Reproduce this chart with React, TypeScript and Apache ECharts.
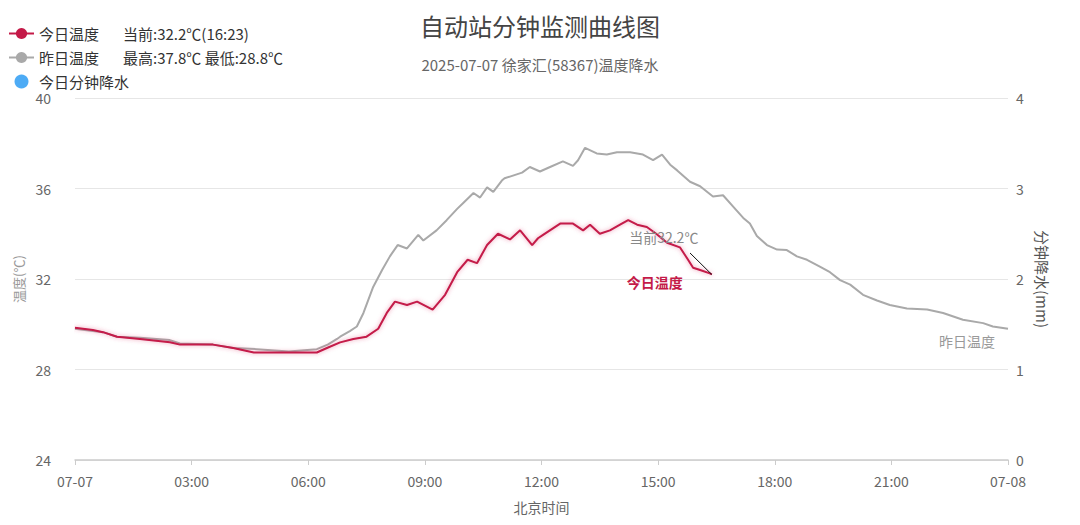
import React, { useEffect, useRef } from "react";
import * as echarts from "echarts";

const xTickLabels = ["07-07", "03:00", "06:00", "09:00", "12:00", "15:00", "18:00", "21:00", "07-08"];

const todayHours = [0, 0.46, 0.72, 1.08, 1.67, 2.44, 2.7, 3.55, 4.07, 4.6, 6.22, 6.48, 6.82, 7.16, 7.5, 7.8, 8.02, 8.23, 8.54, 8.8, 9.2, 9.52, 9.83, 10.1, 10.34, 10.6, 10.88, 11.19, 11.45, 11.76, 11.91, 12.04, 12.48, 12.81, 13.07, 13.25, 13.5, 13.76, 14.02, 14.23, 14.46, 14.71, 14.95, 15.23, 15.56, 15.77, 15.9, 16.08, 16.33, 16.38];
const todayTemps = [29.85, 29.75, 29.65, 29.45, 29.35, 29.2, 29.1, 29.1, 28.95, 28.75, 28.75, 28.95, 29.2, 29.35, 29.45, 29.8, 30.5, 31.0, 30.85, 31.0, 30.65, 31.3, 32.3, 32.85, 32.7, 33.5, 34.0, 33.75, 34.15, 33.5, 33.8, 33.95, 34.45, 34.45, 34.15, 34.4, 34.0, 34.15, 34.4, 34.6, 34.4, 34.3, 34.0, 33.6, 33.4, 32.85, 32.5, 32.4, 32.25, 32.2];

const yesterdayHours = [0, 0.46, 0.72, 1.08, 1.67, 2.44, 2.7, 3.55, 4.07, 4.68, 5.5, 6.22, 6.5, 6.74, 6.82, 7.07, 7.25, 7.42, 7.67, 7.9, 8.1, 8.3, 8.54, 8.83, 8.96, 9.3, 9.56, 9.83, 9.98, 10.25, 10.42, 10.6, 10.76, 10.98, 11.05, 11.5, 11.7, 11.96, 12.22, 12.55, 12.81, 12.94, 13.12, 13.42, 13.68, 13.94, 14.28, 14.61, 14.87, 15.1, 15.31, 15.49, 15.82, 16.08, 16.41, 16.67, 16.93, 17.19, 17.36, 17.54, 17.8, 18.06, 18.31, 18.57, 18.83, 19.16, 19.42, 19.68, 19.94, 20.27, 20.63, 20.96, 21.4, 21.92, 22.33, 22.84, 23.36, 23.61, 24];
const yesterdayTemps = [29.8, 29.7, 29.65, 29.45, 29.4, 29.3, 29.15, 29.1, 28.95, 28.9, 28.8, 28.9, 29.1, 29.35, 29.45, 29.7, 29.9, 30.5, 31.65, 32.4, 33.0, 33.5, 33.35, 33.95, 33.7, 34.15, 34.6, 35.1, 35.35, 35.8, 35.6, 36.05, 35.85, 36.35, 36.45, 36.7, 36.95, 36.75, 36.95, 37.2, 37.0, 37.25, 37.8, 37.55, 37.5, 37.6, 37.6, 37.5, 37.25, 37.5, 37.05, 36.8, 36.3, 36.1, 35.65, 35.7, 35.2, 34.7, 34.45, 33.9, 33.5, 33.3, 33.28, 33.0, 32.85, 32.55, 32.3, 31.95, 31.75, 31.3, 31.05, 30.85, 30.7, 30.65, 30.5, 30.2, 30.05, 29.9, 29.8];

const todayRain: number[][] = [];

// start of the "current value" leader line (hour, °C)
const leaderStart = [15.82, 33.15];

const currentText = "当前32.2℃";
const legendExtra: Record<string, string> = {
  "今日温度": "当前:32.2℃(16:23)",
  "昨日温度": "最高:37.8℃ 最低:28.8℃",
  "今日分钟降水": "",
};

const RED = "#c41a48";
const GRAY = "#a9a9a9";
const BLUE = "#2196f3";
const FONT = "'Noto Sans CJK SC', 'Noto Sans', sans-serif";

export default function App() {
  const ref = useRef<HTMLDivElement>(null);
  useEffect(() => {
    if (!ref.current) return;
    const chart = echarts.init(ref.current, undefined, { renderer: "svg" });
    const today = todayHours.map((h, i) => [h, todayTemps[i]]);
    const yesterday = yesterdayHours.map((h, i) => [h, yesterdayTemps[i]]);
    const lastToday = today[today.length - 1];
    const lastYesterday = yesterday[yesterday.length - 1];
    chart.setOption({
      animation: false,
      textStyle: { fontFamily: FONT },
      title: {
        text: "自动站分钟监测曲线图",
        subtext: "2025-07-07 徐家汇(58367)温度降水",
        left: "center",
        top: 5,
        padding: [0, 5],
        itemGap: 20,
        textStyle: { fontSize: 24, fontWeight: "normal", color: "#444", fontFamily: FONT },
        subtextStyle: { fontSize: 15, color: "#666", fontFamily: FONT },
      },
      legend: {
        orient: "vertical",
        left: 0,
        top: 18,
        padding: 0,
        itemWidth: 25,
        itemHeight: 14,
        itemGap: 9,
        data: [
          { name: "今日温度" },
          { name: "昨日温度" },
          { name: "今日分钟降水", icon: "circle" },
        ],
        formatter: (name: string) =>
          legendExtra[name] ? `{a|${name}}{b|${legendExtra[name]}}` : `{a|${name}}`,
        textStyle: {
          color: "#333",
          fontSize: 15,
          fontFamily: FONT,
          rich: {
            a: { fontSize: 15, color: "#333", fontFamily: FONT, width: 84 },
            b: { fontSize: 15, color: "#333", fontFamily: FONT },
          },
        },
      },
      grid: { left: 67, right: 64, top: 90, bottom: 57, containLabel: false, outerBoundsMode: "none" },
      xAxis: {
        type: "value",
        min: 0,
        max: 24,
        interval: 3,
        name: "北京时间",
        nameLocation: "middle",
        nameGap: 40,
        nameTextStyle: { color: "#666", fontSize: 14 },
        axisLine: { show: true, lineStyle: { color: "#cccccc", width: 1.5 } },
        axisTick: { show: true, length: 5, lineStyle: { color: "#cccccc" } },
        axisLabel: {
          color: "#666",
          fontSize: 14,
          margin: 14,
          formatter: (v: number) => xTickLabels[Math.round(v / 3)] ?? "",
        },
        splitLine: { show: false },
      },
      yAxis: [
        {
          type: "value",
          min: 24,
          max: 40,
          interval: 4,
          name: "温度(℃)",
          nameLocation: "middle",
          nameGap: 50,
          nameTextStyle: { color: "#999", fontSize: 13 },
          axisLine: { show: false },
          axisTick: { show: false },
          axisLabel: { color: "#666", fontSize: 14, margin: 24 },
          splitLine: { lineStyle: { color: "#e6e6e6" } },
        },
        {
          type: "value",
          min: 0,
          max: 4,
          interval: 1,
          name: "分钟降水(mm)",
          nameLocation: "middle",
          nameRotate: -90,
          nameGap: 24,
          nameTextStyle: { color: "#555", fontSize: 15 },
          axisLine: { show: false },
          axisTick: { show: false },
          axisLabel: { color: "#666", fontSize: 14, margin: 8 },
          splitLine: { show: false },
        },
      ],
      series: [
        {
          name: "今日温度",
          type: "line",
          data: today,
          symbol: "circle",
          symbolSize: 8,
          showSymbol: false,
          color: RED,
          lineStyle: {
            color: RED,
            width: 2,
            shadowColor: "rgba(220, 60, 110, 0.55)",
            shadowBlur: 4,
          },
          z: 3,
          markPoint: {
            symbol: "circle",
            symbolSize: 0,
            silent: true,
            data: [
              {
                coord: lastToday,
                label: {
                  show: true,
                  formatter: "今日温度",
                  color: RED,
                  fontSize: 14,
                  fontWeight: "bold",
                  offset: [-57, 8],
                },
              },
              {
                coord: lastToday,
                label: {
                  show: true,
                  formatter: currentText,
                  color: "#888",
                  fontSize: 14,
                  offset: [-48, -37],
                },
              },
            ],
          },
          markLine: {
            symbol: "none",
            silent: true,
            label: { show: false },
            lineStyle: { color: "#111", width: 1, type: "solid" },
            data: [[{ coord: leaderStart }, { coord: lastToday }]],
          },
        },
        {
          name: "昨日温度",
          type: "line",
          data: yesterday,
          symbol: "circle",
          symbolSize: 8,
          showSymbol: false,
          color: GRAY,
          lineStyle: { color: GRAY, width: 2 },
          z: 2,
          markPoint: {
            symbol: "circle",
            symbolSize: 0,
            silent: true,
            data: [
              {
                coord: lastYesterday,
                label: {
                  show: true,
                  formatter: "昨日温度",
                  color: "#999",
                  fontSize: 14,
                  offset: [-41, 12],
                },
              },
            ],
          },
        },
        {
          name: "今日分钟降水",
          type: "scatter",
          yAxisIndex: 1,
          data: todayRain,
          color: BLUE,
        },
      ],
    });
    return () => chart.dispose();
  }, []);
  return <div ref={ref} style={{ width: 1064, height: 509 }} />;
}
